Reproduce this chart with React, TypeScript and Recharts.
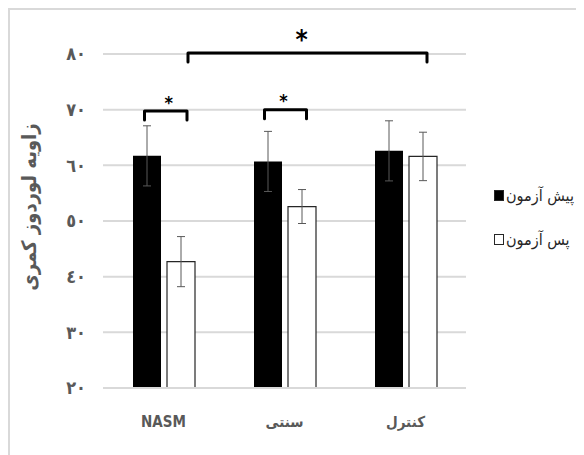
import {
  BarChart, Bar, XAxis, YAxis, CartesianGrid, ErrorBar, ReferenceLine, Legend,
} from 'recharts'

// groups and test results (lumbar lordosis angle, degrees)
const groups     = ['NASM', 'سنتی', 'کنترل']
const preTest    = [61.7, 60.7, 62.6]
const preErr     = [5.4, 5.4, 5.4]
const postTest   = [42.7, 52.6, 61.6]
const postErr    = [4.5, 3.05, 4.35]
const seriesNames = ['پیش آزمون', 'پس آزمون']
const yTicks     = [20, 30, 40, 50, 60, 70, 80]
const yTitle     = 'زاویه لوردوز کمری'

// significance brackets: from/to group, height in data units, end nudges in px
const brackets = [
  { from: groups[0], to: groups[0], y: 69.75, dl: -19, dr: 23.5, star: 18, starDx: 3 },
  { from: groups[1], to: groups[1], y: 70.0,  dl: -20, dr: 22,   star: 18, starDx: -2 },
  { from: groups[0], to: groups[2], y: 80.2,  dl: 24.5, dr: 21.5, star: 26, starDx: -6 },
]

const data = groups.map((g, i) => ({
  group: g,
  pre: preTest[i], preErr: preErr[i],
  post: postTest[i], postErr: postErr[i],
}))

const FONT = '"DejaVu Sans Condensed", "DejaVu Sans", sans-serif'
const arabicDigits = (n: number) => String(n).replace(/\d/g, (d) => '٠١٢٣٤٥٦٧٨٩'[Number(d)])

function YTitle(props: any) {
  const vb = props.viewBox || { x: 0, y: 0, height: 0 }
  const cx = vb.x + 21
  const cy = vb.y + vb.height / 2 - 14
  return (
    <text x={cx} y={cy} transform={`rotate(-90, ${cx}, ${cy})`} textAnchor="middle"
          dominantBaseline="central" fill="#595959" fontSize={20} fontWeight="bold" fontFamily={FONT}>
      {yTitle}
    </text>
  )
}

// bracket drawn from the reference segment (band centres) plus small nudges
function bracketShape(b: typeof brackets[number]) {
  return (p: any) => {
    const xl = p.x1 + b.dl
    const xr = p.x2 + b.dr
    const y = p.y1
    const drop = 9
    const size = b.star
    return (
      <g>
        <path d={`M${xl},${y + drop} L${xl},${y} L${xr},${y} L${xr},${y + drop}`}
              fill="none" stroke="#000" strokeWidth={3} strokeLinejoin="round" strokeLinecap="round" />
        <text x={(xl + xr) / 2 + b.starDx} y={y - size * 0.5} textAnchor="middle"
              dominantBaseline="central" fontSize={size} fontWeight="bold" fill="#000" fontFamily={FONT}>*</text>
      </g>
    )
  }
}

function LegendBox() {
  return (
    <div style={{ fontFamily: FONT, fontSize: 16, color: '#262626' }}>
      {seriesNames.map((n, i) => (
        <div key={n} style={{ display: 'flex', alignItems: 'center', height: 44 }}>
          <span style={{
            display: 'inline-block', width: 10, height: 11, boxSizing: 'border-box',
            background: i === 0 ? '#000' : '#fff', border: '1px solid #262626', marginRight: 2,
          }} />
          <span>{n}</span>
        </div>
      ))}
    </div>
  )
}

export default function App() {
  return (
    <div style={{ position: 'relative', width: 576, height: 447 }}>
      <div style={{
        position: 'absolute', inset: 0, borderTop: '2px solid #d9d9d9', borderLeft: '2px solid #d9d9d9',
      }} />
      <div style={{ position: 'absolute', left: 0, top: 0 }}>
        <BarChart width={576} height={447} data={data} barSize={28} barGap={6}
                  margin={{ top: 46, right: 118, left: 0, bottom: 0 }}>
          <CartesianGrid vertical={false} stroke="#d9d9d9" strokeWidth={2} />
          <XAxis dataKey="group" height={67} axisLine={{ stroke: '#d9d9d9', strokeWidth: 2 }} tickLine={false}
                 tickMargin={22} tick={{ fontSize: 15, fontWeight: 'bold', fill: '#595959', fontFamily: FONT }} />
          <YAxis width={95} domain={[20, 80]} ticks={yTicks} axisLine={false} tickLine={false} tickMargin={11}
                 tickFormatter={arabicDigits} label={(p: any) => <YTitle {...p} />}
                 tick={{ fontSize: 18, fontWeight: 'bold', fill: '#595959', fontFamily: FONT }} />
          <Legend layout="vertical" align="center" verticalAlign="middle" content={() => <LegendBox />}
                  wrapperStyle={{ left: 486, top: 165, width: 90 }} />

          <Bar dataKey="pre" name={seriesNames[0]} fill="#000" isAnimationActive={false}>
            <ErrorBar dataKey="preErr" width={4} stroke="#595959" strokeWidth={1} />
          </Bar>
          <Bar dataKey="post" name={seriesNames[1]} fill="#fff" stroke="#262626" strokeWidth={1.2}
               isAnimationActive={false}>
            <ErrorBar dataKey="postErr" width={4} stroke="#595959" strokeWidth={1} />
          </Bar>

          {brackets.map((b, i) => (
            <ReferenceLine key={i} ifOverflow="visible" shape={bracketShape(b)}
                           segment={[{ x: b.from, y: b.y }, { x: b.to, y: b.y }]} />
          ))}
        </BarChart>
      </div>
    </div>
  )
}
